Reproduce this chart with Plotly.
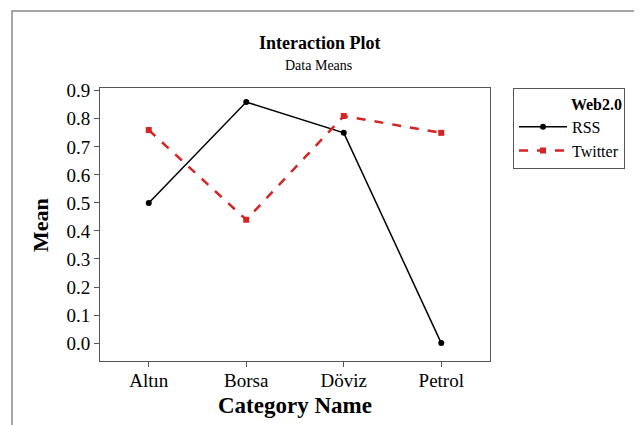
import plotly.graph_objects as go

categories = ["Altın", "Borsa", "Döviz", "Petrol"]
rss_means = [0.50, 0.86, 0.75, 0.00]
twitter_means = [0.76, 0.44, 0.81, 0.75]
y_ticks = [0.0, 0.1, 0.2, 0.3, 0.4, 0.5, 0.6, 0.7, 0.8, 0.9]

FONT = "Liberation Serif"
OFF = 8  # browser body margin
W, H = 642 - OFF, 425 - OFF
# plot area in page pixels: x 100..490, y 88..361
L = 100 - OFF
T = 88 - OFF
R = W - (490 - OFF)
B = H - (361 - OFF)
pw, ph = W - L - R, H - T - B

def px_x(x):
    return (x - OFF - L) / pw

def px_y(y):
    return 1 - (y - OFF - T) / ph

fig = go.Figure()
fig.add_trace(go.Scatter(
    x=categories, y=rss_means, name="RSS", mode="lines+markers",
    line=dict(color="black", width=1.5),
    marker=dict(symbol="circle", size=6, color="black"),
))
fig.add_trace(go.Scatter(
    x=categories, y=twitter_means, name="Twitter", mode="lines+markers",
    line=dict(color="#d42424", width=2.5, dash="dash"),
    marker=dict(symbol="square", size=6, color="#d42424"),
))

fig.update_layout(
    width=W, height=H,
    margin=dict(l=L, r=R, t=T, b=B),
    paper_bgcolor="white", plot_bgcolor="white",
    font=dict(family=FONT, color="black"),
    showlegend=True,
    legend=dict(
        x=px_x(513), y=1.0, xanchor="left", yanchor="top",
        bordercolor="#555555", borderwidth=1,
        font=dict(family=FONT, size=16, color="black"),
        title=dict(text="<b>Web2.0</b>", side="top right",
                   font=dict(family=FONT, size=16)),
        tracegroupgap=0, itemwidth=48,
    ),
    xaxis=dict(
        range=[-0.5, 3.5], type="category",
        tickvals=categories, ticktext=categories,
        ticks="outside", ticklen=5, tickcolor="#555555",
        showline=True, linecolor="#555555", mirror=True, linewidth=1,
        showgrid=False, zeroline=False,
        ticklabelstandoff=-3,
        tickfont=dict(family=FONT, size=19, color="black"),
    ),
    yaxis=dict(
        range=[-0.064, 0.91],
        tickvals=y_ticks, ticktext=[f"{v:.1f}" for v in y_ticks],
        ticks="outside", ticklen=5, tickcolor="#555555",
        showline=True, linecolor="#555555", mirror=True, linewidth=1,
        showgrid=False, zeroline=False,
        tickfont=dict(family=FONT, size=19, color="black"),
    ),
    annotations=[
        dict(text="<b>Interaction Plot</b>", x=px_x(319), y=px_y(43),
             xref="paper", yref="paper", showarrow=False,
             font=dict(family=FONT, size=18), xanchor="center", yanchor="middle"),
        dict(text="Data Means", x=px_x(318), y=px_y(65),
             xref="paper", yref="paper", showarrow=False,
             font=dict(family=FONT, size=14), xanchor="center", yanchor="middle"),
        dict(text="<b>Mean</b>", x=px_x(40), y=px_y(225), textangle=-90,
             xref="paper", yref="paper", showarrow=False,
             font=dict(family=FONT, size=22), xanchor="center", yanchor="middle"),
        dict(text="<b>Category Name</b>", x=px_x(295), y=px_y(405),
             xref="paper", yref="paper", showarrow=False,
             font=dict(family=FONT, size=23), xanchor="center", yanchor="middle"),
    ],
    shapes=[
        dict(type="rect", xref="paper", yref="paper",
             x0=px_x(12), x1=px_x(660), y0=px_y(460), y1=px_y(11),
             line=dict(color="#888888", width=1.5), layer="below"),
    ],
)

fig.write_html("out.html")
